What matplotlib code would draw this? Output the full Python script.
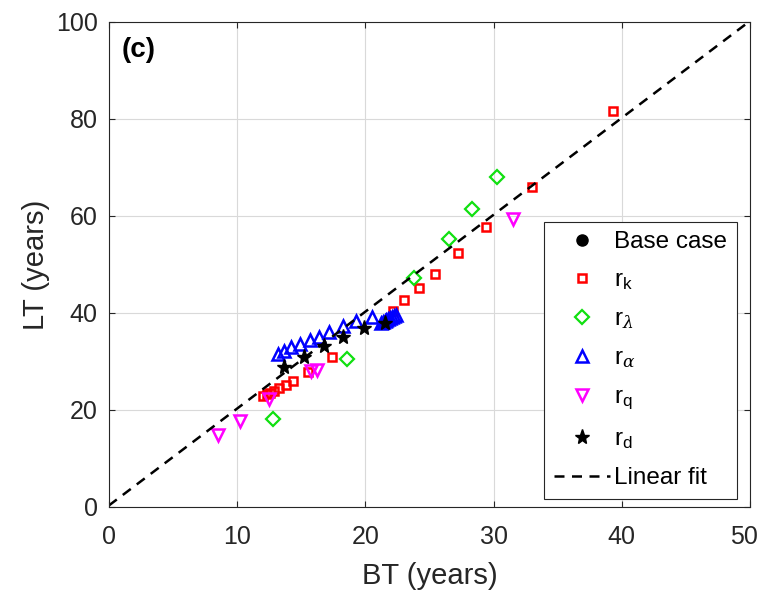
import numpy as np
import matplotlib
matplotlib.use("Agg")
import matplotlib.pyplot as plt
from matplotlib.transforms import ScaledTranslation

plt.rcParams['font.family'] = ['Liberation Sans', 'DejaVu Sans']
plt.rcParams['mathtext.fontset'] = 'custom'
plt.rcParams['mathtext.rm'] = 'Liberation Sans'
plt.rcParams['mathtext.it'] = 'DejaVu Serif:italic'

# base case (BT, LT)
base_bt = [21.8]
base_lt = [38.3]

# r_k sweep
rk_bt = [12.0, 12.3, 12.6, 12.9, 13.3, 13.8, 14.4, 15.5, 17.4, 22.2, 23.0, 24.2,
         25.4, 27.2, 29.4, 33.0, 39.3]
rk_lt = [22.8, 23.2, 23.6, 24.0, 24.6, 25.2, 26.0, 27.9, 30.9, 40.5, 42.7, 45.1,
         48.0, 52.3, 57.7, 65.9, 81.6]

# r_lambda sweep
rl_bt = [12.8, 18.6, 23.8, 26.5, 28.3, 30.3]
rl_lt = [18.1, 30.5, 47.3, 55.3, 61.4, 68.1]

# r_alpha sweep
ra_bt = [13.2, 13.7, 14.2, 14.9, 15.7, 16.4, 17.2, 18.3, 19.3, 20.5,
         21.2, 21.35, 21.5, 21.65, 21.8, 21.95, 22.1, 22.25, 22.4]
ra_lt = [31.5, 32.2, 32.9, 33.7, 34.4, 35.1, 36.0, 37.3, 38.4, 39.2,
         37.9, 38.1, 38.3, 38.5, 38.7, 38.9, 39.1, 39.3, 39.5]

# r_q sweep
rq_bt = [8.5, 10.2, 12.5, 15.8, 16.2, 31.5]
rq_lt = [14.8, 17.8, 22.3, 28.1, 28.3, 59.4]

# r_d sweep
rd_bt = [13.7, 15.2, 16.8, 18.3, 19.9, 21.5]
rd_lt = [28.9, 31.0, 33.1, 35.0, 36.9, 38.0]

# linear fit end points
fit_bt = [0, 50]
fit_lt = [0.3, 100.2]

fig = plt.figure(figsize=(7.61, 5.94), dpi=100)
ax = fig.add_axes([0.143, 0.1465, 0.8425, 0.8165])

ax.plot(base_bt, base_lt, 'o', color='k', markersize=8, label='Base case')
ax.plot(rk_bt, rk_lt, 's', mfc='none', mec='red', mew=1.8, markersize=6, label=r'r$_{\mathrm{k}}$')
ax.plot(rl_bt, rl_lt, 'D', mfc='none', mec='#10e010', mew=1.6, markersize=7.5, label=r'r$_\lambda$')
ax.plot(ra_bt, ra_lt, '^', mfc='none', mec='blue', mew=1.8, markersize=9, label=r'r$_\alpha$')
ax.plot(rq_bt, rq_lt, 'v', mfc='none', mec='magenta', mew=1.8, markersize=9, label=r'r$_{\mathrm{q}}$')
ax.plot(rd_bt, rd_lt, '*', color='k', markersize=11, label=r'r$_{\mathrm{d}}$')
ax.plot(fit_bt, fit_lt, '--', color='k', linewidth=1.8, dashes=(4, 3), label='Linear fit')

ax.set_xlim(0, 50)
ax.set_ylim(0, 100)
ax.set_xticks(np.arange(0, 51, 10))
ax.set_yticks(np.arange(0, 101, 20))
ax.grid(True, color='#d9d9d9', linewidth=0.8)
ax.set_axisbelow(True)
ax.tick_params(direction='in', top=True, right=True, labelsize=18, length=4, pad=8,
               color='#262626', labelcolor='#262626')
ax.tick_params(axis='x', pad=13)
for s in ax.spines.values():
    s.set_color('#262626')
    s.set_linewidth(0.8)
ax.set_xlabel('BT (years)', fontsize=21, color='#262626', labelpad=9)
ax.set_ylabel('LT (years)', fontsize=21, color='#262626', labelpad=4)
ax.text(0.02, 0.968, '(c)', transform=ax.transAxes, fontsize=20, fontweight='bold',
        va='top', ha='left')

# keep the last x tick label inside the figure edge
last = ax.get_xticklabels()[-1]
last.set_transform(last.get_transform() + ScaledTranslation(-4 / 72, 0, fig.dpi_scale_trans))

leg = ax.legend(loc='lower right', bbox_to_anchor=(0.98, 0.0165), borderaxespad=0,
                fontsize=17.5, frameon=True, fancybox=False, edgecolor='#262626',
                framealpha=1, handlelength=2.3, handletextpad=0.2, labelspacing=0.66,
                borderpad=0.4)
leg.get_frame().set_linewidth(0.8)

fig.savefig('out.png', dpi=100)
